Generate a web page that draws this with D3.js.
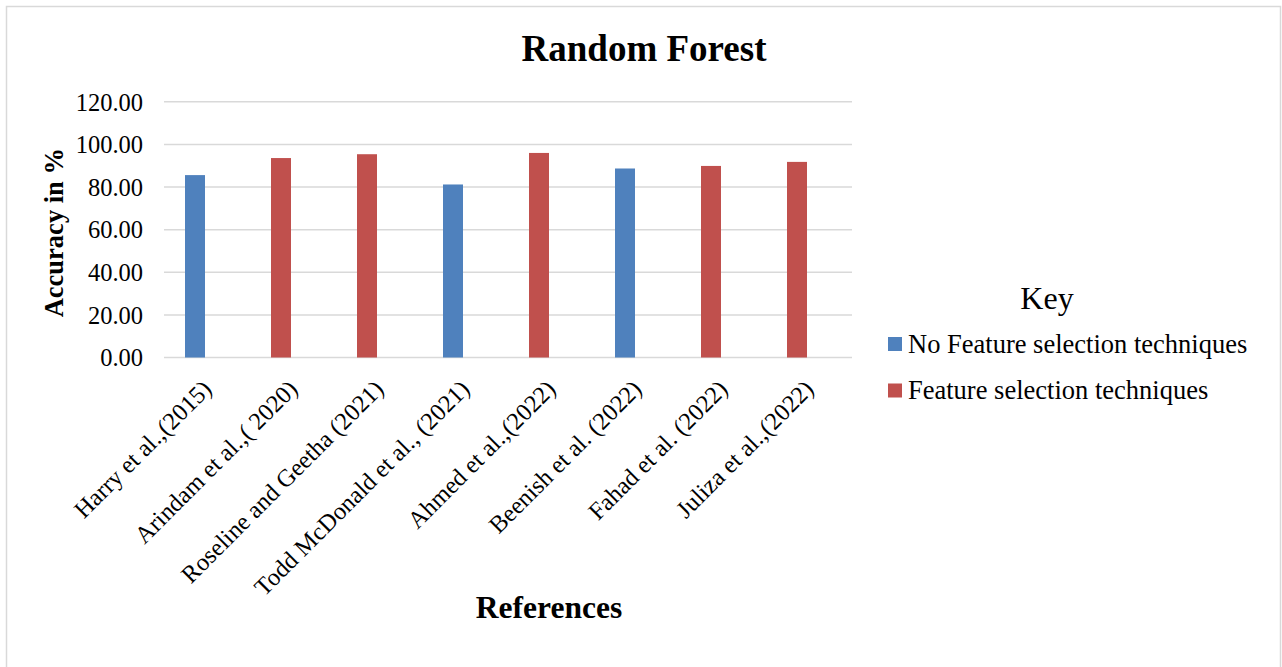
<!DOCTYPE html>
<html>
<head>
<meta charset="utf-8">
<script src="https://cdn.jsdelivr.net/npm/d3@7"></script>
<style>
  html, body { margin: 0; padding: 0; background: #fff; }
  svg { display: block; }
  text { font-family: "Times New Roman", "Liberation Serif", serif; fill: #000; }
</style>
</head>
<body>
<svg id="chart" width="1282" height="667"></svg>
<script>
// Studies compared (category axis)
const categories = [
  "Harry et al.,(2015)",
  "Arindam et al.,( 2020)",
  "Roseline and Geetha (2021)",
  "Todd McDonald et al., (2021)",
  "Ahmed et al.,(2022)",
  "Beenish et al. (2022)",
  "Fahad et al. (2022)",
  "Juliza et al.,(2022)"
];
// Reported Random Forest accuracy (%) for each study
const accuracy = [85.6, 93.6, 95.4, 81.2, 96.0, 88.7, 89.9, 91.8];
// Whether each study used a feature selection step
const group = ["none", "fs", "fs", "none", "fs", "none", "fs", "fs"];
// Legend series
const seriesKeys = ["none", "fs"];
const seriesNames = ["No Feature selection techniques", "Feature selection techniques"];
const seriesColors = ["#4F81BD", "#C0504D"];
// Value axis ticks
const yTicks = [0, 20, 40, 60, 80, 100, 120];

const svg = d3.select("#chart");

// outer frame
svg.append("rect")
  .attr("x", 6.5).attr("y", 6.5)
  .attr("width", 1274).attr("height", 680)
  .attr("fill", "#fff")
  .attr("stroke", "#D9D9D9").attr("stroke-width", 1.5);

const plot = { left: 164, right: 852, top: 101.8, bottom: 357.5 };

const x = d3.scaleBand().domain(categories).range([plot.left, plot.right]);
const y = d3.scaleLinear().domain([0, 120]).range([plot.bottom, plot.top]);
const color = d3.scaleOrdinal().domain(seriesKeys).range(seriesColors);

const barWidth = 20;
const barShift = -12;
const labelFont = '"Times New Roman", "Liberation Serif", serif';

// gridlines
svg.append("g")
  .selectAll("line")
  .data(yTicks)
  .join("line")
  .attr("x1", plot.left).attr("x2", plot.right)
  .attr("y1", d => y(d)).attr("y2", d => y(d))
  .attr("stroke", "#D9D9D9").attr("stroke-width", 1.5);

// value axis labels
const yAxis = d3.axisLeft(y).tickValues(yTicks).tickFormat(d3.format(".2f")).tickSize(0).tickPadding(0);
svg.append("g")
  .attr("transform", `translate(${plot.left - 21},0)`)
  .call(yAxis)
  .call(g => g.select(".domain").remove())
  .call(g => g.selectAll("text")
    .attr("font-family", labelFont)
    .attr("font-size", 24.5)
    .attr("fill", "#000")
    .attr("dy", "0.34em"));

// bars
svg.append("g")
  .selectAll("rect")
  .data(categories.map((c, i) => ({ c, v: accuracy[i], g: group[i] })))
  .join("rect")
  .attr("x", d => x(d.c) + x.bandwidth() / 2 + barShift - barWidth / 2)
  .attr("width", barWidth)
  .attr("y", d => y(d.v))
  .attr("height", d => y(0) - y(d.v))
  .attr("fill", d => color(d.g));

// category labels, rotated
const xAxis = d3.axisBottom(x).tickSize(0).tickPadding(0);
svg.append("g")
  .attr("transform", `translate(0,${plot.bottom})`)
  .call(xAxis)
  .call(g => g.select(".domain").remove())
  .call(g => g.selectAll("text")
    .attr("font-family", labelFont)
    .attr("font-size", 24.5)
    .attr("fill", "#000")
    .attr("text-anchor", "end")
    .attr("dy", null)
    .attr("y", 0)
    .attr("transform", "translate(6,33) rotate(-45)"));

// title
svg.append("text")
  .attr("x", 644).attr("y", 61)
  .attr("text-anchor", "middle")
  .attr("font-size", 37).attr("font-weight", "bold")
  .text("Random Forest");

// axis titles
svg.append("text")
  .attr("transform", `translate(63,${(plot.top + plot.bottom) / 2 + 3}) rotate(-90)`)
  .attr("text-anchor", "middle")
  .attr("font-size", 26.5).attr("font-weight", "bold")
  .text("Accuracy in %");

svg.append("text")
  .attr("x", 549).attr("y", 618)
  .attr("text-anchor", "middle")
  .attr("font-size", 31.5).attr("font-weight", "bold")
  .text("References");

// legend
const legend = svg.append("g");
legend.append("text")
  .attr("x", 1047).attr("y", 309)
  .attr("text-anchor", "middle")
  .attr("font-size", 32)
  .attr("fill", "#222")
  .text("Key");

const items = legend.selectAll("g.item")
  .data(seriesKeys)
  .join("g")
  .attr("class", "item")
  .attr("transform", (d, i) => `translate(888,${344 + i * 46.5})`);
items.append("rect")
  .attr("x", 0).attr("y", -7)
  .attr("width", 14).attr("height", 14)
  .attr("fill", d => color(d));
items.append("text")
  .attr("x", 20).attr("y", 8.5)
  .attr("font-size", 26.5)
  .text((d, i) => seriesNames[i]);
</script>
</body>
</html>
